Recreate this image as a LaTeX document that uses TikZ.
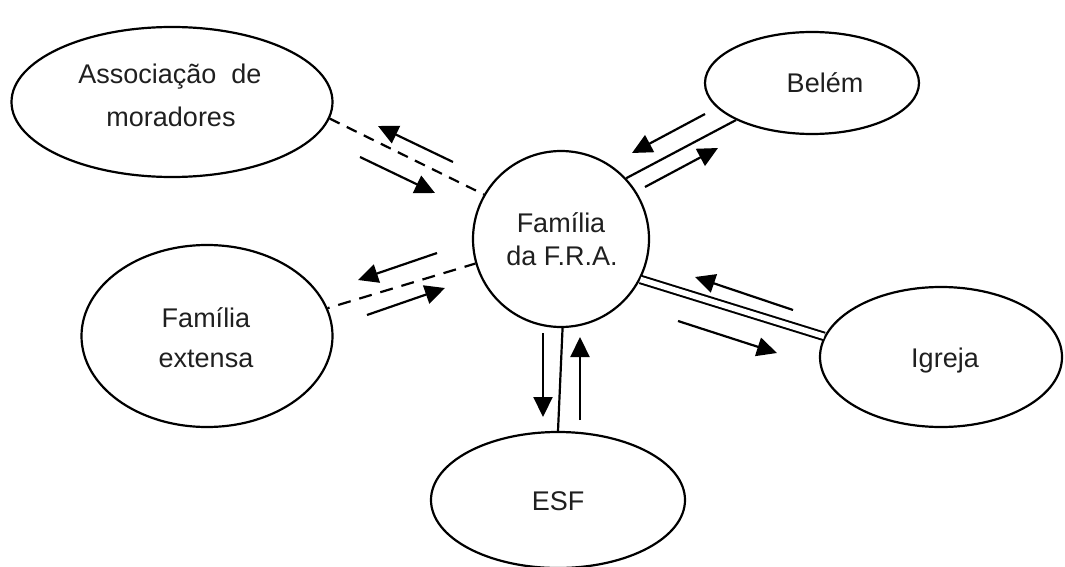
\documentclass[tikz,border=0pt]{standalone}
\usepackage{fontspec}
\setmainfont{Liberation Sans}
\usetikzlibrary{arrows.meta,shapes.geometric}
\begin{document}
\begin{tikzpicture}[x=1pt,y=-1pt,
  bubble/.style={draw, line width=2.2pt, ellipse, inner sep=0pt},
  hub/.style={draw, line width=2.2pt, circle, inner sep=0pt},
  lbl/.style={anchor=base, inner sep=0pt, text=black!88,
    font=\fontsize{27}{30}\selectfont},
  link/.style={line width=2.2pt},
  dashlink/.style={line width=2.2pt, dash pattern=on 11pt off 8pt},
  dotdashlink/.style={line width=2.2pt, dash pattern=on 13pt off 9pt, dash phase=11pt},
  duallink/.style={line width=2pt, double, double distance=5.5pt},
  flow/.style={line width=2.2pt, -{Triangle[length=20pt,width=19pt]}}]
\useasboundingbox (0,0) rectangle (1065,567);

% nodes
\node[bubble, minimum width=321pt, minimum height=150pt] (assoc) at (172,102) {};
\node[bubble, minimum width=251pt, minimum height=182pt] (ext) at (207,336) {};
\node[hub, minimum size=176pt] (fra) at (561,239) {};
\node[bubble, minimum width=214pt, minimum height=102pt] (belem) at (812,83) {};
\node[bubble, minimum width=242pt, minimum height=140pt] (igreja) at (941,357) {};
\node[bubble, minimum width=254pt, minimum height=136pt] (esf) at (558,500) {};

% labels
\node[lbl] (assocA) at (170,84) {Associação\ \ de};
\node[lbl] (assocB) at (171,127) {moradores};
\node[lbl] (extA) at (206,327) {Família};
\node[lbl] (extB) at (206,367) {extensa};
\node[lbl] (fraA) at (561,232) {Família};
\node[lbl] (fraB) at (562,265) {da F.R.A.};
\node[lbl] (belemL) at (825,93) {Belém};
\node[lbl] (igrejaL) at (945,367) {Igreja};
\node[lbl] (esfL) at (558,510) {ESF};

% links
\draw[dashlink] (assoc.-6.4) -- (fra.150.3);
\draw[dotdashlink] (ext.13.4) -- (fra.-164);
\draw[link] (fra.43.6) -- (belem.-154.4);
\draw[duallink] (fra.-27.4) -- (igreja.170.5);
\draw[link] (fra.-89.5) -- (esf.90);

% exchange arrows
\draw[flow] (453,162) -- (378,126);
\draw[flow] (360,157) -- (435,193);
\draw[flow] (437,253) -- (358,280);
\draw[flow] (367,315) -- (445,288);
\draw[flow] (705,114) -- (632,153);
\draw[flow] (645,187) -- (718,148);
\draw[flow] (793,310) -- (695,277);
\draw[flow] (678,321) -- (777,353);
\draw[flow] (543,333) -- (543,417);
\draw[flow] (580,420) -- (580,337);
\end{tikzpicture}
\end{document}
